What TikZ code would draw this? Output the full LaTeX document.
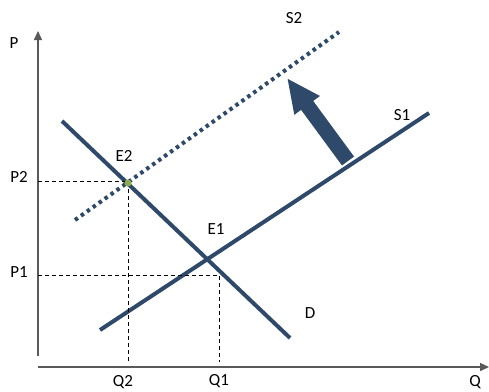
\documentclass[tikz,border=0pt]{standalone}
\usepackage{fontspec}
\setmainfont{Carlito}
\usetikzlibrary{arrows.meta}
\definecolor{curveblue}{RGB}{46,73,106}
\definecolor{eqgreen}{RGB}{140,172,76}
\begin{document}
\begin{tikzpicture}[x=1pt,y=-1pt,
  lbl/.style={inner sep=0pt,font=\fontsize{17}{20}\selectfont},
  axis/.style={line width=1.5pt,draw=black!65,-{Triangle[length=9pt,width=8pt]}},
  curve/.style={line width=4pt,draw=curveblue},
  shifted/.style={line width=4pt,draw=curveblue,dash pattern=on 3.5pt off 3.8pt},
  guide/.style={line width=0.9pt,dashed,dash pattern=on 4pt off 3pt}]
\useasboundingbox (0,0) rectangle (489,391);
% axes
\coordinate (O) at (38,367);
\coordinate (ptop) at (38,31);
\coordinate (qend) at (489,367);
\draw[axis] (38,356) -- (ptop);
\draw[axis] (O) -- (qend);
% curves
\coordinate (s1a) at (100,330);
\coordinate (s1b) at (429,113);
\coordinate (da) at (62,121);
\coordinate (db) at (290,338);
\coordinate (s2a) at (75,220);
\coordinate (s2b) at (339,32);
\draw[curve] (s1a) -- (s1b);
\draw[curve] (da) -- (db);
\draw[shifted] (s2a) -- (s2b);
% equilibria
\coordinate (e1) at (207,259);
\coordinate (e2) at (128,183);
\coordinate (p2) at (38,181);
\coordinate (p1) at (38,275);
\coordinate (q2) at (128,362);
\coordinate (q1) at (219,362);
\coordinate (c1) at (219,275);
\draw[guide] (p2) -- (128,181) -- (q2);
\draw[guide] (p1) -- (c1) -- (q1);
\fill[eqgreen] (e2) circle (3.5pt);
% shift arrow
\coordinate (sbase) at (348,161);
\coordinate (stip) at (287,78);
\draw[line width=15pt,draw=curveblue,-{Triangle[length=34pt,width=29pt]}] (sbase) -- (stip);
% labels
\node[lbl] (lp) at (14,43) {P};
\node[lbl] (lp2) at (19,177) {P2};
\node[lbl] (lp1) at (19,272) {P1};
\node[lbl] (le2) at (124,156) {E2};
\node[lbl] (le1) at (216,229) {E1};
\node[lbl] (ls2) at (294,18) {S2};
\node[lbl] (ls1) at (402,115) {S1};
\node[lbl] (ld) at (310,313) {D};
\node[lbl] (lq2) at (123,382) {Q2};
\node[lbl] (lq1) at (219,381) {Q1};
\node[lbl] (lq) at (475,382) {Q};
\end{tikzpicture}
\end{document}
